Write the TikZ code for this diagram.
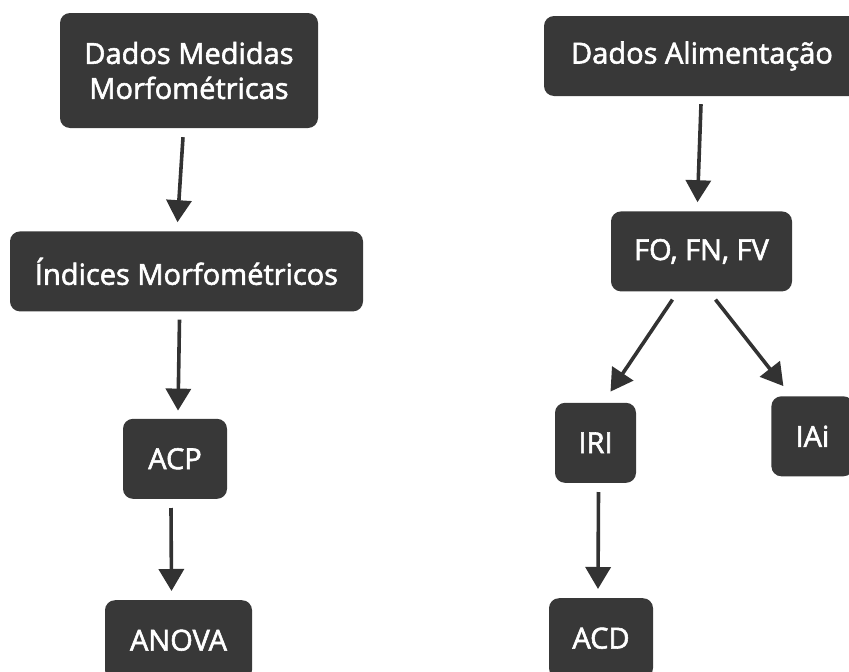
\documentclass[tikz,border=0pt]{standalone}
\usepackage{fontspec}
\setmainfont{Open Sans}[FakeBold=2]
\usepackage{tikz}
\usetikzlibrary{arrows.meta, positioning}
\definecolor{boxgray}{RGB}{56,56,56}
\definecolor{arrgray}{RGB}{50,50,50}
\tikzset{
  box/.style = {rectangle, rounded corners=10pt, fill=boxgray, text=white,
                font=\fontsize{29}{35}\selectfont, align=center,
                inner xsep=10pt, inner ysep=10pt, minimum height=80pt},
  arr/.style = {-{Triangle[length=22pt,width=25pt]}, line width=3.6pt, draw=arrgray}
}
\begin{document}
\begin{tikzpicture}[x=1pt, y=1pt]
  \useasboundingbox (0,0) rectangle (849,-672);
  % left column
  \node[box, minimum height=115pt, minimum width=258pt] (dmm) at (189,-70.5) {Dados Medidas\\Morfométricas};
  \node[box, minimum width=353pt] (ind)   [below=103pt of dmm, xshift=-2.5pt] {Índices Morfométricos};
  \node[box, minimum width=104pt] (acp)   [below=107pt of ind, xshift=-11.5pt] {ACP};
  \node[box, minimum width=147pt] (anova) [below=101pt of acp, xshift=3.5pt]  {ANOVA};
  % right column
  \node[box, minimum width=316pt] (dal)   at (702,-56) {Dados Alimentação};
  \node[box, minimum width=181pt] (fo)    [below=115pt of dal, xshift=-0.5pt] {FO, FN, FV};
  \node[box, minimum width=81pt]  (iri)   [below=111pt of fo, xshift=-106pt]  {IRI};
  \node[box, minimum width=82pt]  (iai)   [right=135pt of iri, yshift=6.5pt]  {IAi};
  \node[box, minimum width=104pt] (acd)   [below=115pt of iri, xshift=5.5pt]  {ACD};
  \draw[arr] ([shift={(-6,-9)}]dmm.south) -- ([shift={(-9,9)}]ind.north);
  \draw[arr] ([shift={(-7,-8)}]ind.south) -- ([shift={(3,8)}]acp.north);
  \draw[arr] ([shift={(-4,-9)}]acp.south) -- ([shift={(-7,9)}]anova.north);
  \draw[arr] ([shift={(-1,-8)}]dal.south) -- ([shift={(-4,9)}]fo.north);
  \draw[arr] ([shift={(-29,-8)}]fo.south) -- ([shift={(15,11)}]iri.north);
  \draw[arr] ([shift={(14,-8)}]fo.south)  -- ([shift={(-29,10)}]iai.north);
  \draw[arr] ([shift={(3,-9)}]iri.south)  -- ([shift={(-3,9)}]acd.north);
\end{tikzpicture}
\end{document}
